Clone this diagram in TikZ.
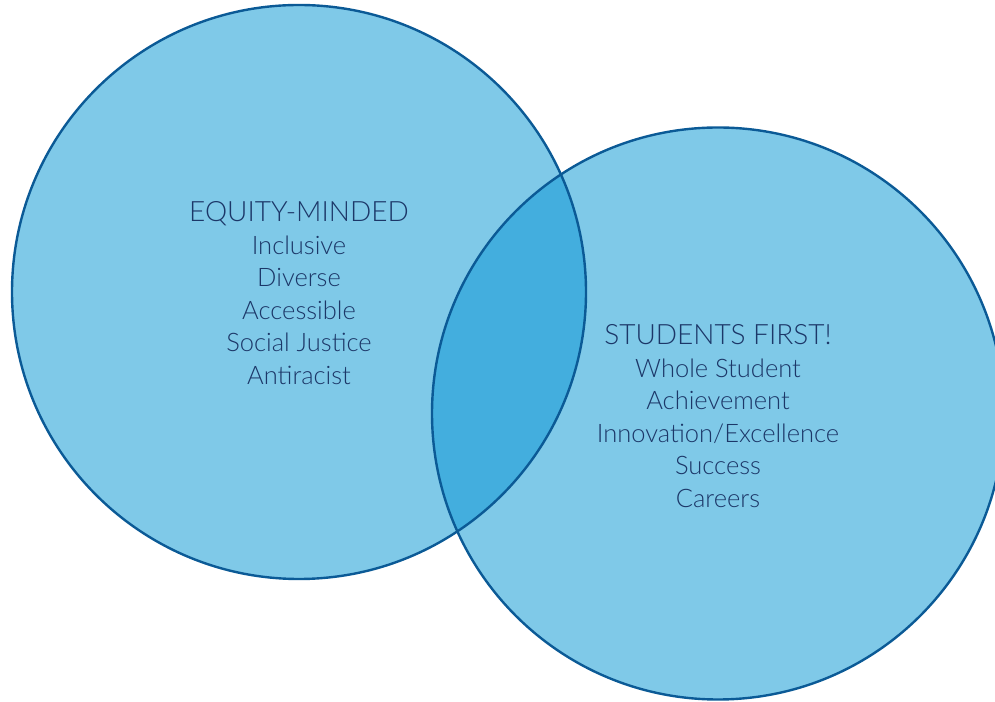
\documentclass[tikz,border=0pt]{standalone}
\usepackage{fontspec}
\setmainfont{Lato}[UprightFont=* Light]
\definecolor{fillL}{HTML}{7FC9E8}
\definecolor{fillO}{HTML}{43AEDE}
\definecolor{edge}{HTML}{0B5A96}
\definecolor{ink}{HTML}{1C3768}
\tikzset{
  lbl/.style={align=center, text=ink, font=\fontsize{25.5}{32.5}\selectfont, inner sep=0pt},
  ring/.style={draw=edge, line width=2.4pt},
}
\begin{document}
\begin{tikzpicture}[x=1pt,y=1pt]
\clip (0,0) rectangle (995,701);
\useasboundingbox (0,0) rectangle (995,701);
\coordinate (cL) at (299,409);
\coordinate (cR) at (718,287.5);
\fill[fillL] (cL) circle (287);
\fill[fillL] (cR) circle (286);
\begin{scope}
  \clip (cL) circle (287);
  \fill[fillO] (cR) circle (286);
\end{scope}
\draw[ring] (cL) circle (287);
\draw[ring] (cR) circle (286);
\node[lbl] (eq) at (299,408) {{\fontsize{28}{32.5}\selectfont EQUITY-MINDED}\\Inclusive\\Diverse\\Accessible\\Social Justice\\Antiracist};
\node[lbl] (sf) at (718,285) {{\fontsize{28}{32.5}\selectfont STUDENTS FIRST!}\\Whole Student\\Achievement\\Innovation/Excellence\\Success\\Careers};
\end{tikzpicture}
\end{document}
